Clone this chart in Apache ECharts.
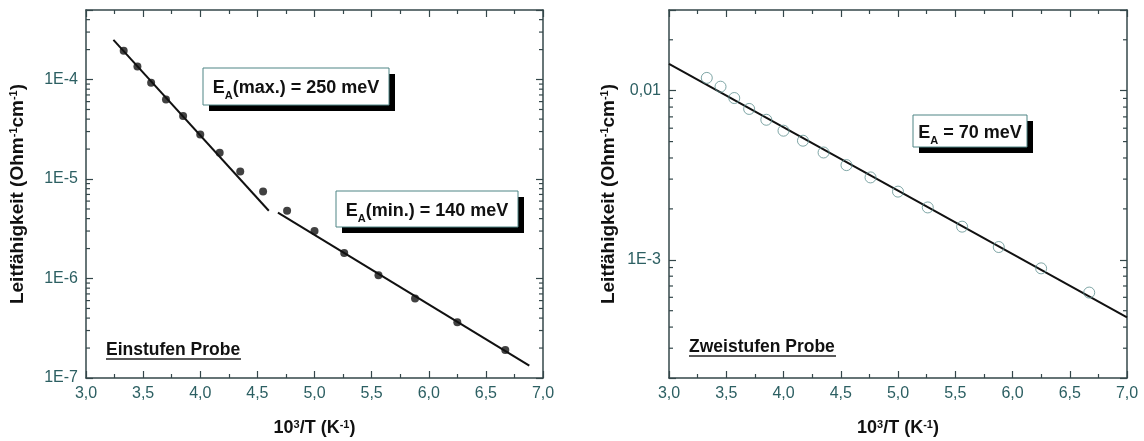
<!DOCTYPE html>
<html>
<head>
<meta charset="utf-8">
<script src="https://cdn.jsdelivr.net/npm/echarts@6/dist/echarts.min.js"></script>
<style>
html,body{margin:0;padding:0;background:#fff;}
#c{width:1144px;height:441px;}
</style>
</head>
<body>
<div id="c"></div>
<script>
// ---- data ----
const xVals = [3.33, 3.45, 3.57, 3.70, 3.85, 4.00, 4.17, 4.35, 4.55, 4.76, 5.00, 5.26, 5.56, 5.88, 6.25, 6.67];
const einstufen = [1.95e-4, 1.35e-4, 9.3e-5, 6.3e-5, 4.3e-5, 2.8e-5, 1.84e-5, 1.19e-5, 7.5e-6, 4.8e-6, 3.0e-6, 1.81e-6, 1.08e-6, 6.3e-7, 3.63e-7, 1.91e-7];
const zweistufen = [0.0119, 0.01056, 0.00905, 0.0078, 0.00673, 0.0058, 0.00506, 0.00431, 0.00363, 0.00307, 0.00253, 0.00204, 0.00157, 0.00119, 8.9e-4, 6.4e-4];
const fitMaxX = [3.24, 4.60];
const fitMaxY = [2.5e-4, 4.8e-6];
const fitMinX = [4.68, 6.88];
const fitMinY = [4.6e-6, 1.33e-7];
const fitZweiX = [3.0, 7.0];
const fitZweiY = [0.0144, 4.56e-4];
const xRange = [3.0, 7.0];
const yRangeLeft = [1e-7, 5e-4];
const yRangeRight = [2e-4, 3e-2];
const leftTickLabels = {'-7': '1E-7', '-6': '1E-6', '-5': '1E-5', '-4': '1E-4'};
const rightTickLabels = {'-3': '1E-3', '-2': '0,01'};

function minorTicks(range) {
  const out = [];
  const lo = Math.floor(Math.log10(range[0])), hi = Math.ceil(Math.log10(range[1]));
  for (let d = lo; d <= hi; d++) {
    for (let k = 2; k <= 9; k++) {
      const v = k * Math.pow(10, d);
      if (v > range[0] * 1.0001 && v < range[1] * 0.9999) out.push(v);
    }
  }
  return out;
}
const zip = (a, b) => a.map((v, i) => [v, b[i]]);

const AX = '#34474a';
const LBL = '#2c5f62';
const FONT = '"Liberation Sans", Arial, sans-serif';

function logFmt(map) {
  return function (v) {
    const l = Math.log10(v);
    const r = Math.round(l);
    if (Math.abs(l - r) < 1e-6 && map[String(r)] !== undefined) return map[String(r)];
    return '';
  };
}

function xAxes(gi) {
  const common = {
    type: 'value', gridIndex: gi, min: xRange[0], max: xRange[1], interval: 0.5,
    axisLine: {show: true, onZero: false, lineStyle: {color: AX, width: 1.5}},
    axisTick: {show: true, inside: true, length: 7, lineStyle: {color: AX, width: 1.2}},
    minorTick: {show: true, splitNumber: 2, length: 4, lineStyle: {color: AX, width: 1.2}},
    splitLine: {show: false}
  };
  return [
    Object.assign({}, common, {
      position: 'bottom',
      axisLabel: {show: true, color: LBL, fontSize: 16, fontFamily: FONT, margin: 8,
        formatter: v => v.toFixed(1).replace('.', ',')},
      name: '{b|10}{s|3}{b|/T (K}{s|-1}{b|)}',
      nameLocation: 'middle', nameGap: 41,
      nameTextStyle: {rich: {
        b: {fontSize: 18, fontWeight: 'bold', fontFamily: FONT, color: '#111'},
        s: {fontSize: 11, fontWeight: 'bold', fontFamily: FONT, color: '#111', verticalAlign: 'top'}
      }}
    }),
    Object.assign({}, common, {position: 'top', axisLabel: {show: false}})
  ];
}

function yAxes(gi, range, map, gap) {
  const common = {
    type: 'log', logBase: 10, gridIndex: gi, min: range[0], max: range[1],
    axisLine: {show: true, onZero: false, lineStyle: {color: AX, width: 1.5}},
    axisTick: {show: true, inside: true, length: 7, lineStyle: {color: AX, width: 1.2}},
    minorTick: {show: false},
    splitLine: {show: false}
  };
  return [
    Object.assign({}, common, {
      position: 'left',
      axisLabel: {show: true, color: LBL, fontSize: 16, fontFamily: FONT, margin: 8, formatter: logFmt(map)},
      name: '{b|Leitfähigkeit (Ohm}{s|-1}{b|cm}{s|-1}{b|)}',
      nameLocation: 'middle', nameGap: gap, nameRotate: 90,
      nameTextStyle: {rich: {
        b: {fontSize: 19, fontWeight: 'bold', fontFamily: FONT, color: '#111'},
        s: {fontSize: 11, fontWeight: 'bold', fontFamily: FONT, color: '#111', verticalAlign: 'top'}
      }}
    }),
    Object.assign({}, common, {position: 'right', axisLabel: {show: false}})
  ];
}

function minorSeries(xi, yi, range) {
  return {
    type: 'custom', xAxisIndex: xi, yAxisIndex: yi, silent: true, z: 3,
    data: minorTicks(range).map(v => [xRange[0], v]),
    renderItem: function (params, api) {
      const cs = params.coordSys;
      const p = api.coord([xRange[0], api.value(1)]);
      const st = {stroke: AX, lineWidth: 1.2};
      return {type: 'group', children: [
        {type: 'line', shape: {x1: cs.x, y1: p[1], x2: cs.x + 4, y2: p[1]}, style: st},
        {type: 'line', shape: {x1: cs.x + cs.width - 4, y1: p[1], x2: cs.x + cs.width, y2: p[1]}, style: st}
      ]};
    }
  };
}

const fitLine = (xi, yi, xs, ys) => ({
  type: 'line', xAxisIndex: xi, yAxisIndex: yi, data: zip(xs, ys), showSymbol: false, silent: true,
  lineStyle: {color: '#111', width: 2}, z: 4
});

function box(x, y, w, h, text) {
  return {
    type: 'group', x: x, y: y, children: [
      {type: 'rect', shape: {x: 6, y: 6, width: w, height: h}, style: {fill: '#000'}},
      {type: 'rect', shape: {x: 0, y: 0, width: w, height: h}, style: {fill: '#fff', stroke: '#4f8585', lineWidth: 1}},
      {type: 'text', style: {x: w / 2, y: h / 2 + 2, align: 'center', verticalAlign: 'middle', text: text,
        rich: {
          e: {fontSize: 18, fontWeight: 'bold', fontFamily: FONT, fill: '#111', lineHeight: 26, verticalAlign: 'middle'},
          a: {fontSize: 11, fontWeight: 'bold', fontFamily: FONT, fill: '#111', lineHeight: 26, verticalAlign: 'bottom'}
        }}}
    ]
  };
}

function underlined(x, y, text, len) {
  return {
    type: 'group', x: x, y: y, children: [
      {type: 'text', style: {x: 0, y: 0, align: 'left', verticalAlign: 'middle', text: text,
        font: 'bold 17.5px ' + FONT, fill: '#111'}},
      {type: 'line', shape: {x1: 0, y1: 9, x2: len, y2: 9}, style: {stroke: '#222', lineWidth: 1.5}}
    ]
  };
}

const chart = echarts.init(document.getElementById('c'), null, {renderer: 'canvas'});
chart.setOption({
  animation: false,
  backgroundColor: '#fff',
  grid: [
    {left: 86, right: 1144 - 543, top: 10, bottom: 441 - 378, outerBoundsMode: 'none'},
    {left: 669, right: 1144 - 1127, top: 10, bottom: 441 - 378, outerBoundsMode: 'none'}
  ],
  xAxis: xAxes(0).concat(xAxes(1)),
  yAxis: yAxes(0, yRangeLeft, leftTickLabels, 59).concat(yAxes(1, yRangeRight, rightTickLabels, 51)),
  series: [
    minorSeries(0, 0, yRangeLeft),
    minorSeries(2, 2, yRangeRight),
    fitLine(0, 0, fitMaxX, fitMaxY),
    fitLine(0, 0, fitMinX, fitMinY),
    fitLine(2, 2, fitZweiX, fitZweiY),
    {type: 'scatter', xAxisIndex: 0, yAxisIndex: 0, data: zip(xVals, einstufen),
      symbol: 'circle', symbolSize: 8, itemStyle: {color: '#111'}, z: 5},
    {type: 'scatter', xAxisIndex: 2, yAxisIndex: 2, data: zip(xVals, zweistufen),
      symbol: 'circle', symbolSize: 11, itemStyle: {color: 'rgba(255,255,255,0)', borderColor: '#5f9090', borderWidth: 1}, z: 5}
  ],
  graphic: [
    box(203, 68, 186, 37, '{e|E}{a|A}{e|(max.) = 250 meV}'),
    box(336, 191, 182, 36, '{e|E}{a|A}{e|(min.) = 140 meV}'),
    box(913, 115, 114, 32, '{e|E}{a|A}{e| = 70 meV}'),
    underlined(106, 350, 'Einstufen Probe', 135),
    underlined(689, 347, 'Zweistufen Probe', 147)
  ]
});
</script>
</body>
</html>
